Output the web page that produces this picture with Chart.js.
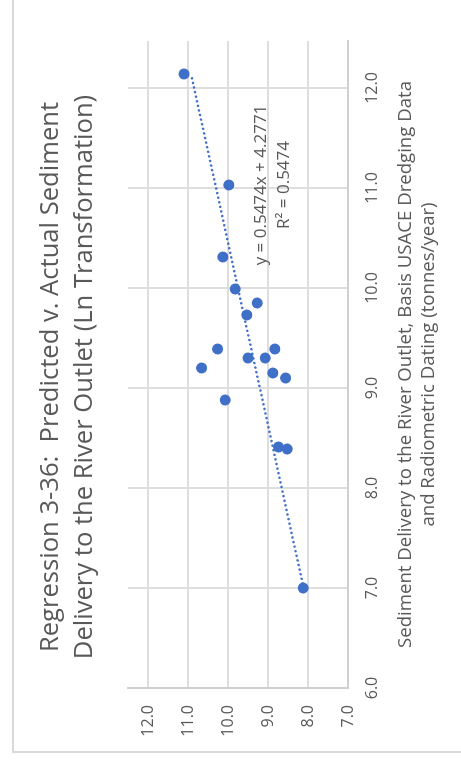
<!DOCTYPE html>
<html>
<head>
<meta charset="utf-8">
<script src="https://cdn.jsdelivr.net/npm/chart.js@4.4.1/dist/chart.umd.min.js"></script>
<style>
  html, body { margin: 0; padding: 0; background: #ffffff; overflow: hidden; }
  body { width: 461px; height: 761px; position: relative; }
  /* the chart is laid out landscape and turned a quarter turn counter-clockwise */
  #frame {
    position: absolute; left: 0; top: 0;
    width: 761px; height: 461px;
    transform-origin: 0 0;
    transform: translate(0, 761px) rotate(-90deg);
  }
  #chart { display: block; }
</style>
</head>
<body>
<div id="frame"><canvas id="chart" width="761" height="461" style="width:761px;height:461px"></canvas></div>
<script>
// Sediment delivery, ln(tonnes/year): basis USACE dredging + radiometric dating (x) vs. regression prediction (y)
const actualLn = [12.14, 11.03, 10.31, 9.99, 9.85, 9.73, 9.39, 9.39, 9.30, 9.30, 9.20, 9.15, 9.10, 8.88, 8.41, 8.39, 7.00];
const predictedLn = [11.10, 9.98, 10.13, 9.82, 9.27, 9.53, 10.26, 8.83, 9.50, 9.07, 10.66, 8.88, 8.56, 10.07, 8.74, 8.52, 8.12];

// Linear trendline reported on the chart
const trendSlope = 0.5474;
const trendIntercept = 4.2771;
const trendR2 = 0.5474;

const titleLines = ['Regression 3-36:  Predicted v. Actual Sediment', 'Delivery to the River Outlet (Ln Transformation)'];
const xTitleLines = ['Sediment Delivery to the River Outlet, Basis USACE Dredging Data', 'and Radiometric Dating (tonnes/year)'];

const FONT = '"Open Sans", "Liberation Sans", sans-serif';
const TEXT = '#595959';
const BLUE = '#3f6fc6';
const GRID = '#dedede';

const points = actualLn.map((x, i) => ({ x: x, y: predictedLn[i] }));
const xLo = Math.min(...actualLn), xHi = Math.max(...actualLn);
const trend = [xLo, xHi].map(x => ({ x: x, y: trendSlope * x + trendIntercept }));

// Chart frame, titles and the trendline equation
const decorations = {
  id: 'decorations',
  afterDraw(chart) {
    const ctx = chart.ctx, area = chart.chartArea;
    ctx.save();
    ctx.strokeStyle = '#d9d9d9';
    ctx.lineWidth = 2;
    ctx.strokeRect(9, 13, 820, 520);

    ctx.fillStyle = TEXT;
    ctx.textAlign = 'center';
    ctx.textBaseline = 'alphabetic';
    ctx.font = '25.6px ' + FONT;
    ctx.fillText(titleLines[0], 384, 58);
    ctx.fillText(titleLines[1], 384, 92);

    const cx = (area.left + area.right) / 2;
    ctx.font = '18.6px ' + FONT;
    ctx.fillText(xTitleLines[0], cx, 411);
    ctx.fillText(xTitleLines[1], cx, 434);

    ctx.font = '17px ' + FONT;
    ctx.fillText('y = ' + trendSlope.toFixed(4) + 'x + ' + trendIntercept.toFixed(4), 576, 266);
    ctx.fillText('R\u00B2 = ' + trendR2.toFixed(4), 576, 289);
    ctx.restore();
  }
};

new Chart(document.getElementById('chart'), {
  type: 'scatter',
  data: {
    datasets: [
      {
        label: 'Observations',
        data: points,
        backgroundColor: BLUE,
        borderColor: BLUE,
        borderWidth: 0,
        pointRadius: 5.5,
        pointHoverRadius: 5.5,
        order: 2
      },
      {
        type: 'line',
        label: 'Linear trend',
        data: trend,
        borderColor: BLUE,
        borderWidth: 2.5,
        borderDash: [0.1, 4.6],
        borderCapStyle: 'round',
        pointRadius: 0,
        fill: false,
        order: 1
      }
    ]
  },
  options: {
    responsive: false,
    animation: false,
    devicePixelRatio: 1,
    layout: { padding: { top: 128, right: 41, left: 0, bottom: 0 } },
    plugins: { legend: { display: false }, tooltip: { enabled: false }, title: { display: false } },
    scales: {
      x: {
        type: 'linear',
        min: 6, max: 12.47,
        afterFit(scale) { scale.height = 113; },
        grid: { color: GRID, lineWidth: 2, drawTicks: false },
        border: { color: '#cfcfcf', width: 2 },
        ticks: {
          stepSize: 1, includeBounds: false, autoSkip: false, maxRotation: 0,
          padding: 15, color: TEXT, font: { family: FONT, size: 16 },
          callback: v => Number(v).toFixed(1)
        }
      },
      y: {
        type: 'linear',
        min: 7, max: 12.5,
        afterFit(scale) { scale.width = 73; },
        grid: { color: GRID, lineWidth: 2, drawTicks: false },
        border: { color: '#cfcfcf', width: 2 },
        ticks: {
          stepSize: 1, includeBounds: false, autoSkip: false,
          padding: 17, color: TEXT, font: { family: FONT, size: 16 },
          callback: v => Number(v).toFixed(1)
        }
      }
    }
  },
  plugins: [decorations]
});
</script>
</body>
</html>
